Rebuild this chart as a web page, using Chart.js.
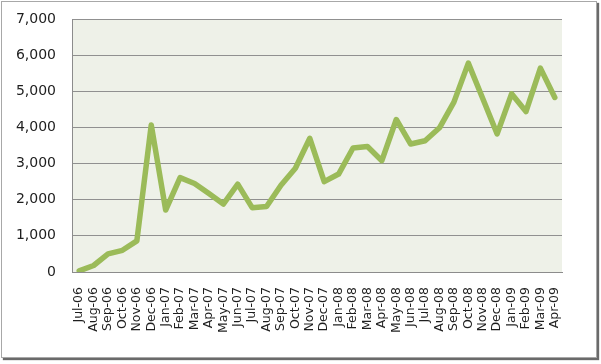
<!DOCTYPE html>
<html>
<head>
<meta charset="utf-8">
<script src="https://cdn.jsdelivr.net/npm/chart.js@4/dist/chart.umd.min.js"></script>
<style>
  html, body { margin: 0; padding: 0; background: #ffffff; width: 601px; height: 364px; overflow: hidden; }
  #frame { position: absolute; left: 1px; top: 1px; width: 594px; height: 355px; border: 1px solid #a8a8a8; box-shadow: 2px 2px 1px #6a6a6a; background: #fff; }
  #c { position: absolute; left: 0; top: 0; }
</style>
</head>
<body>
<div id="frame"></div>
<canvas id="c" width="601" height="364"></canvas>
<script>
const categories = ["Jul-06","Aug-06","Sep-06","Oct-06","Nov-06","Dec-06","Jan-07","Feb-07","Mar-07","Apr-07","May-07","Jun-07","Jul-07","Aug-07","Sep-07","Oct-07","Nov-07","Dec-07","Jan-08","Feb-08","Mar-08","Apr-08","May-08","Jun-08","Jul-08","Aug-08","Sep-08","Oct-08","Nov-08","Dec-08","Jan-09","Feb-09","Mar-09","Apr-09"];
const values = [30, 180, 500, 600, 860, 4070, 1715, 2610, 2450, 2170, 1880, 2430, 1780, 1810, 2400, 2870, 3700, 2500, 2710, 3430, 3470, 3080, 4220, 3540, 3630, 3990, 4700, 5780, 4800, 3820, 4930, 4440, 5640, 4830];
const yTicks = [0, 1000, 2000, 3000, 4000, 5000, 6000, 7000];

const plotBg = {
  id: 'plotBg',
  beforeDraw(chart) {
    const a = chart.chartArea, ctx = chart.ctx;
    ctx.save();
    ctx.fillStyle = '#eef1e8';
    ctx.fillRect(a.left, a.top, a.right - a.left, a.bottom - a.top);
    ctx.restore();
  }
};

new Chart(document.getElementById('c'), {
  type: 'line',
  data: {
    labels: categories,
    datasets: [{
      data: values,
      borderColor: '#9bbb59',
      borderWidth: 5.5,
      pointRadius: 0,
      tension: 0,
      fill: false,
      borderJoinStyle: 'round',
      borderCapStyle: 'round'
    }]
  },
  options: {
    responsive: false,
    animation: false,
    layout: { padding: { top: 19, right: 39, left: 0, bottom: 0 } },
    plugins: { legend: { display: false }, tooltip: { enabled: false } },
    scales: {
      x: {
        type: 'category',
        offset: true,
        grid: { display: false, drawTicks: false },
        border: { display: true, color: '#8c8c8c', width: 1 },
        ticks: {
          autoSkip: false, maxRotation: 90, minRotation: 90, padding: 15,
          color: '#1e1e1e', font: { family: 'DejaVu Sans', size: 12.5 }
        },
        afterFit(s) { s.height = 92; s.paddingLeft = 0; s.paddingRight = 0; s.paddingTop = 0; s.paddingBottom = 0; }
      },
      y: {
        min: 0, max: 7000,
        afterBuildTicks(s) { s.ticks = yTicks.map(v => ({ value: v })); },
        grid: { color: '#909090', lineWidth: 1, drawTicks: false },
        border: { display: true, color: '#8c8c8c', width: 1 },
        ticks: {
          padding: 16, color: '#1e1e1e', font: { family: 'DejaVu Sans', size: 14 },
          callback: v => v.toLocaleString('en-US')
        },
        afterFit(s) { s.width = 72; s.paddingTop = 0; s.paddingBottom = 0; }
      }
    }
  },
  plugins: [plotBg]
});
</script>
</body>
</html>
